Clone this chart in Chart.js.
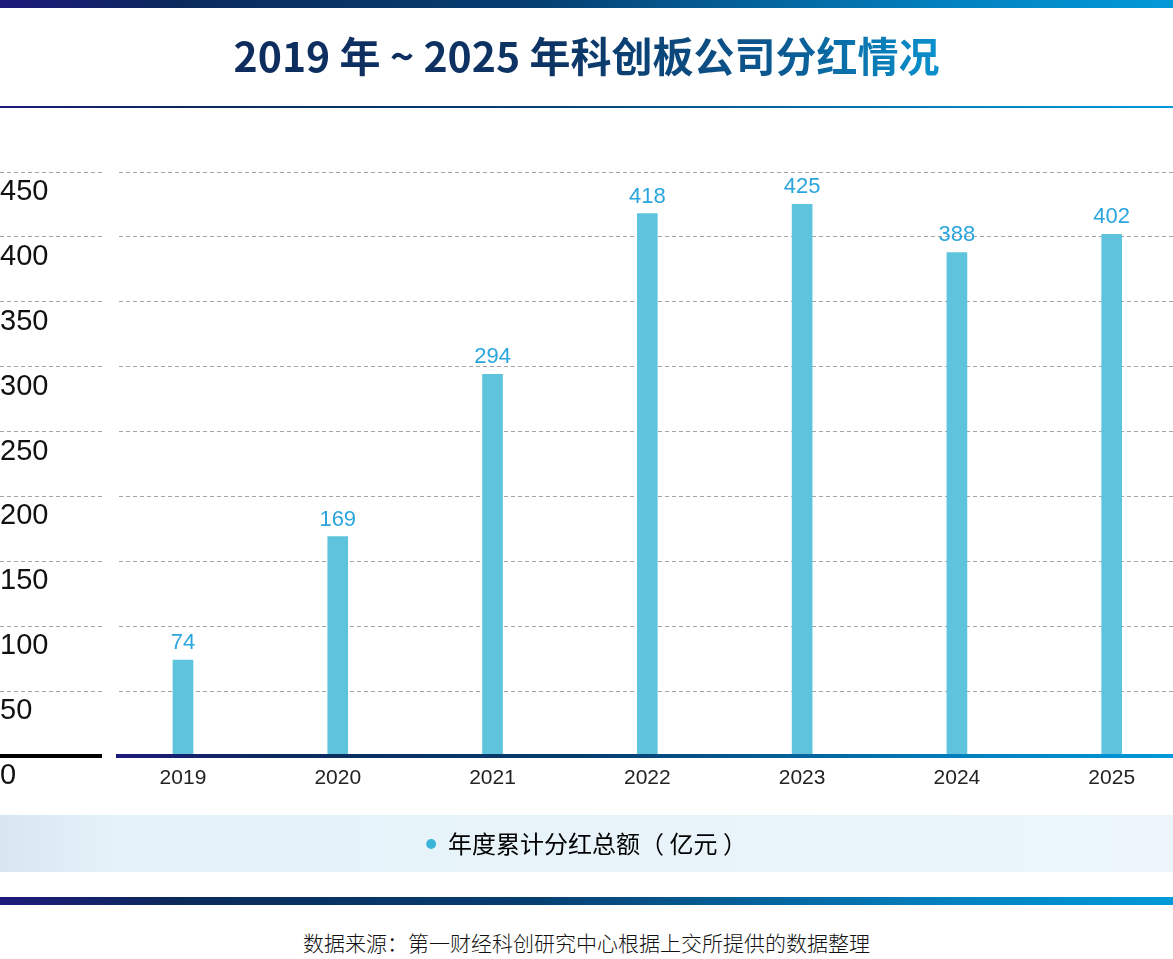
<!DOCTYPE html>
<html>
<head>
<meta charset="utf-8">
<script src="https://cdn.jsdelivr.net/npm/chart.js@4.4.1/dist/chart.umd.min.js"></script>
<style>
  body { margin: 0; width: 1173px; height: 959px; position: relative; overflow: hidden; background: #fff; }
  .band { position: absolute; left: 0; width: 1173px;
    background: linear-gradient(90deg, #1e1a7c 0%, #0b2a5c 15%, #063e70 45%, #0380be 80%, #0299d8 100%); }
  .title { position: absolute; left: 0; top: 27px; width: 1173px; text-align: center;
    font: bold 41px 'Noto Sans CJK SC', sans-serif; line-height: 54px; }
  .title span { background: linear-gradient(90deg, #0e2c5e 0%, #0d3464 45%, #0b5a92 78%, #0a92ce 100%);
    -webkit-background-clip: text; background-clip: text; color: transparent; }
  #wrap { position: absolute; left: 0; top: 120px; width: 1173px; height: 760px; }
  .src { position: absolute; left: 0; top: 928px; width: 1173px; text-align: center;
    font: 300 21px 'Noto Sans CJK SC', sans-serif; color: #111; line-height: 28px; }
</style>
</head>
<body>
<div class="band" style="top:0;height:8px"></div>
<div class="title"><span>2019 年 ~ 2025 年科创板公司分红情况</span></div>
<div class="band" style="top:106px;height:2px"></div>
<div id="wrap"><canvas id="c"></canvas></div>
<div class="band" style="top:897px;height:8px"></div>
<div class="src">数据来源：第一财经科创研究中心根据上交所提供的数据整理</div>

<script>
// chart data
const YEARS = ['2019', '2020', '2021', '2022', '2023', '2024', '2025'];
const DIVIDENDS = [74, 169, 294, 418, 425, 388, 402];
const SERIES_NAME = '年度累计分红总额（ 亿元 ）';
const Y_MAX = 450;
const Y_STEP = 50;

const FONT = "'Liberation Sans', Arial, sans-serif";
const CJK = "'Noto Sans CJK SC', sans-serif";

const C = {
  bar:   '#5ec4de',
  dot:   '#3ab4da',
  value: '#2aa5de',
  grid:  '#a4a4a4',
  text:  '#111111'
};

function axisGradient(ctx, x0, x1) {
  const g = ctx.createLinearGradient(x0, 0, x1, 0);
  g.addColorStop(0, '#1e1a7c');
  g.addColorStop(0.15, '#0b2a5c');
  g.addColorStop(0.45, '#063e70');
  g.addColorStop(0.8, '#0380be');
  g.addColorStop(1, '#0299d8');
  return g;
}

// light band behind the legend
const legendBand = {
  id: 'legendBand',
  beforeDraw(chart) {
    const lg = chart.legend;
    if (!lg) return;
    const ctx = chart.ctx;
    const cy = (lg.top + lg.bottom) / 2;
    const g = ctx.createLinearGradient(0, 0, chart.width, 0);
    g.addColorStop(0, '#d9e6f2');
    g.addColorStop(0.1, '#e4f2f9');
    g.addColorStop(1, '#ecf6fa');
    ctx.save();
    ctx.fillStyle = g;
    ctx.fillRect(0, cy - 29, chart.width, 57);
    ctx.restore();
  }
};

// gap between label column and plot, then the thick base line
const frame = {
  id: 'frame',
  beforeDatasetsDraw(chart) {
    const a = chart.chartArea, ctx = chart.ctx;
    ctx.save();
    ctx.fillStyle = '#fff';
    ctx.fillRect(102, a.top - 2, 14, a.bottom - a.top + 4);
    ctx.restore();
  },
  afterDatasetsDraw(chart) {
    const ctx = chart.ctx;
    const y0 = chart.scales.y.getPixelForValue(0);
    ctx.save();
    ctx.fillStyle = '#000';
    ctx.fillRect(0, y0 - 2, 102, 4);
    ctx.fillStyle = axisGradient(ctx, 116, chart.width);
    ctx.fillRect(116, y0 - 2, chart.width - 116, 4);
    ctx.restore();
  }
};

const valueLabels = {
  id: 'valueLabels',
  afterDatasetsDraw(chart) {
    const ctx = chart.ctx;
    const meta = chart.getDatasetMeta(0);
    ctx.save();
    ctx.font = '22px ' + FONT;
    ctx.fillStyle = C.value;
    ctx.textAlign = 'center';
    ctx.textBaseline = 'alphabetic';
    meta.data.forEach((bar, i) => {
      ctx.fillText(String(DIVIDENDS[i]), bar.x, bar.y - 11);
    });
    ctx.restore();
  }
};

new Chart(document.getElementById('c'), {
  type: 'bar',
  data: {
    datasets: [{
      label: SERIES_NAME,
      data: DIVIDENDS.map((v, i) => ({ x: i, y: v })),
      backgroundColor: C.bar,
      barThickness: 20
    }]
  },
  options: {
    responsive: true,
    maintainAspectRatio: false,
    animation: false,
    layout: { padding: { top: 52, left: 0, right: 0, bottom: 14 } },
    plugins: {
      tooltip: { enabled: false },
      legend: {
        position: 'bottom',
        labels: {
          font: { family: CJK, size: 24 },
          color: '#222',
          usePointStyle: true,
          boxWidth: 10,
          boxHeight: 7,
          padding: 10,
          generateLabels: () => [{
            text: SERIES_NAME,
            fillStyle: C.dot,
            strokeStyle: C.dot,
            lineWidth: 0,
            pointStyle: 'circle',
            datasetIndex: 0
          }]
        }
      }
    },
    scales: {
      x: {
        type: 'linear',
        offset: false,
        min: -1.182,
        max: 6.396,
        grid: { display: false },
        border: { display: false },
        afterBuildTicks: (s) => { s.ticks = YEARS.map((_, i) => ({ value: i })); },
        afterFit: (s) => { s.height = 66; },
        ticks: {
          font: { family: FONT, size: 21 },
          color: '#222',
          padding: 2,
          maxRotation: 0,
          autoSkip: false,
          callback: (v) => YEARS[v] !== undefined ? YEARS[v] : ''
        }
      },
      y: {
        min: 0,
        max: Y_MAX,
        afterFit: (s) => { s.width = 0; },
        grid: {
          drawTicks: false,
          color: (c) => c.tick && c.tick.value === 0 ? 'rgba(0,0,0,0)' : C.grid,
          lineWidth: 1
        },
        border: { display: false, dash: [4, 3] },
        ticks: {
          stepSize: Y_STEP,
          mirror: true,
          padding: 0,
          labelOffset: 20,
          font: { family: FONT, size: 29 },
          color: C.text
        }
      }
    }
  },
  plugins: [legendBand, frame, valueLabels]
});
</script>
</body>
</html>
